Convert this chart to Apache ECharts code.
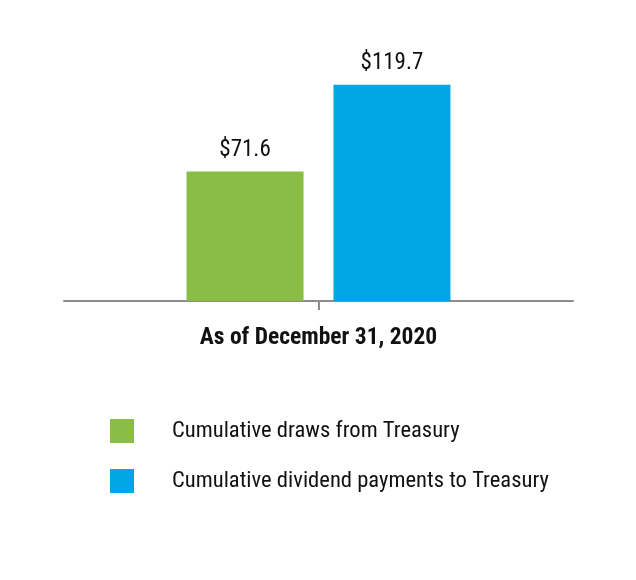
<!DOCTYPE html>
<html><head><meta charset="utf-8">
<script src="https://cdn.jsdelivr.net/npm/echarts@6/dist/echarts.min.js"></script>
<style>html,body{margin:0;padding:0;background:#fff}#c{width:636px;height:580px}</style>
</head><body><div id="c"></div>
<script>
const categories = ["As of December 31, 2020"];
const seriesNames = ["Cumulative draws from Treasury", "Cumulative dividend payments to Treasury"];
const drawsValues = [71.6];
const dividendValues = [119.7];
const colors = ["#8abd45", "#00a6e1"];
const FONT = "'Liberation Sans Narrow', 'Roboto Condensed', 'Roboto', sans-serif";

const chart = echarts.init(document.getElementById('c'), null, {renderer: 'canvas'});
const labelCfg = {show: true, position: 'top', distance: 10, color: '#111', fontSize: 23, fontFamily: FONT,
  formatter: p => '$' + p.value.toFixed(1)};
chart.setOption({
  animation: false,
  grid: {left: 64, right: 63, top: 48, bottom: 279},
  legend: {
    orient: 'vertical', left: 110, top: 419, padding: 0, itemWidth: 24, itemHeight: 24, itemGap: 26,
    icon: 'rect',
    textStyle: {fontSize: 22.6, color: '#111', fontFamily: FONT, padding: [3, 0, 0, 33]},
    data: seriesNames
  },
  xAxis: {
    type: 'category', data: categories,
    axisLine: {lineStyle: {color: '#8c8c8c', width: 2}},
    axisTick: {show: true, alignWithLabel: true, length: 9, lineStyle: {color: '#8c8c8c', width: 2}},
    axisLabel: {margin: 25, fontSize: 23.5, fontWeight: 'bold', color: '#111', fontFamily: FONT}
  },
  yAxis: {type: 'value', min: 0, max: 140, show: false, splitLine: {show: false}},
  series: [
    {name: seriesNames[0], type: 'bar', data: drawsValues, barWidth: 117, barGap: '25.6%',
     itemStyle: {color: colors[0]}, label: labelCfg},
    {name: seriesNames[1], type: 'bar', data: dividendValues, barWidth: 117, barGap: '25.6%',
     itemStyle: {color: colors[1]}, label: labelCfg}
  ]
});
</script></body></html>
